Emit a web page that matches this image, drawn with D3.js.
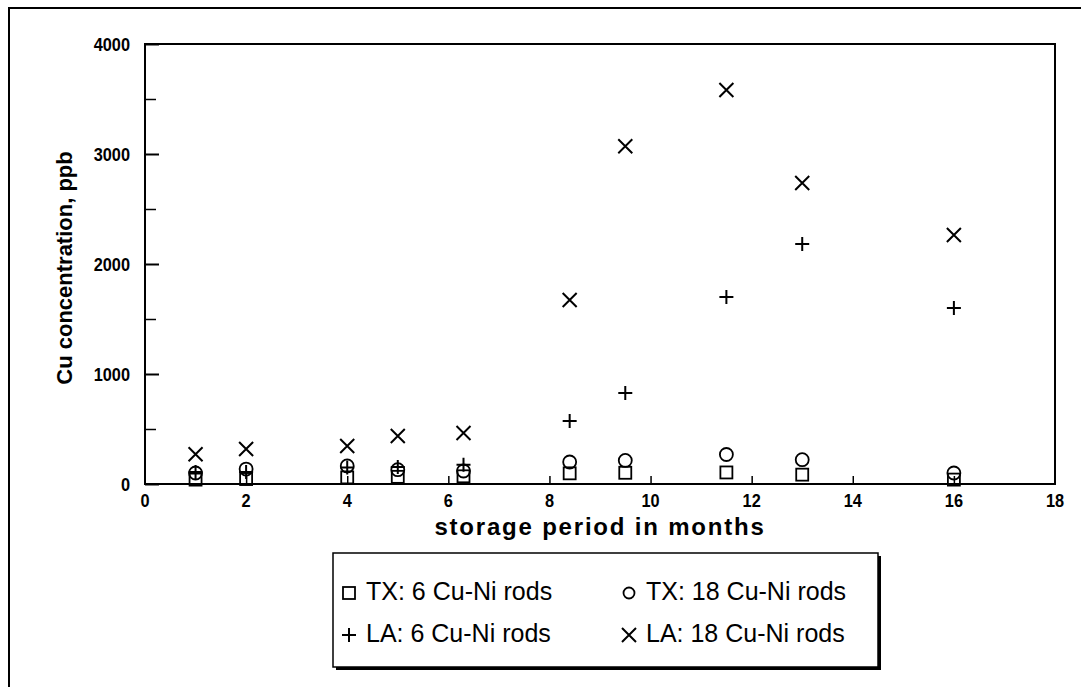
<!DOCTYPE html>
<html>
<head>
<meta charset="utf-8">
<script src="https://cdn.jsdelivr.net/npm/d3@7"></script>
<style>
    body{margin:0;background:#fff;}
    svg text{font-family:'Liberation Sans',Arial,sans-serif;fill:#000;}
</style>
</head>
<body>
<div id="chart"></div>
<script>
let chart_width = 1081;
let chart_height = 687;

// storage period (months) for every measurement
let months = [1, 2, 4, 5, 6.3, 8.4, 9.5, 11.5, 13, 16];
// Cu concentration, ppb
let tx6 = [40, 45, 60, 65, 70, 97, 102, 105, 85, 40];
let tx18 = [100, 136, 164, 130, 118, 200, 214, 268, 221, 100];
let la6 = [110, 110, 150, 155, 175, 573, 827, 1700, 2182, 1600];
let la18 = [270, 318, 345, 436, 464, 1673, 3070, 3582, 2736, 2264];

let x_ticks = [0, 2, 4, 6, 8, 10, 12, 14, 16, 18];
let y_ticks = [0, 1000, 2000, 3000, 4000];
let y_minor = [500, 1500, 2500, 3500];

let series_names = ['TX: 6 Cu-Ni rods', 'TX: 18 Cu-Ni rods', 'LA: 6 Cu-Ni rods', 'LA: 18 Cu-Ni rods'];
let series_values = [tx6, tx18, la6, la18];
let series_shapes = ['square', 'circle', 'plus', 'cross'];

const xScale = d3.scaleLinear().domain([0, 18]).range([145, 1055]);
const yScale = d3.scaleLinear().domain([0, 4000]).range([484, 44]);

let svg = d3.select('#chart')
    .append('svg')
    .attr('width', chart_width)
    .attr('height', chart_height);

// outer frame (runs off the right and bottom edges in the scan)
svg.append('rect')
    .attr('x', 9)
    .attr('y', 8)
    .attr('width', 1100)
    .attr('height', 700)
    .attr('fill', 'none')
    .attr('stroke', '#000')
    .attr('stroke-width', 2);

// plot frame
svg.append('rect')
    .attr('x', xScale(0))
    .attr('y', yScale(4000))
    .attr('width', xScale(18) - xScale(0))
    .attr('height', yScale(0) - yScale(4000))
    .attr('fill', 'none')
    .attr('stroke', '#000')
    .attr('stroke-width', 2);

// y axis, ticks pointing inward
let yAxis = svg.append('g')
    .attr('transform', 'translate(' + xScale(0) + ',0)')
    .call(d3.axisRight(yScale).tickValues(y_ticks).tickSize(14).tickFormat(''));
yAxis.select('.domain').remove();
yAxis.selectAll('line').attr('stroke-width', 2);

let yMinor = svg.append('g')
    .attr('transform', 'translate(' + xScale(0) + ',0)')
    .call(d3.axisRight(yScale).tickValues(y_minor).tickSize(11).tickFormat(''));
yMinor.select('.domain').remove();
yMinor.selectAll('line').attr('stroke-width', 1.5);

// tick labels are a narrow bold face in the original, so squeeze them a bit
svg.append('g')
    .selectAll('text')
    .data(y_ticks)
    .enter()
    .append('text')
    .text(d => d)
    .attr('transform', d => 'translate(130,' + (yScale(d) + 7) + ') scale(0.86,1)')
    .attr('text-anchor', 'end')
    .style('font-size', '19px')
    .style('font-weight', 'bold');

// x axis, short ticks pointing up
let xAxis = svg.append('g')
    .attr('transform', 'translate(0,' + yScale(0) + ')')
    .call(d3.axisTop(xScale).tickValues(x_ticks.slice(1, -1)).tickSize(8).tickFormat(''));
xAxis.select('.domain').remove();
xAxis.selectAll('line').attr('stroke-width', 1.5);

svg.append('g')
    .selectAll('text')
    .data(x_ticks)
    .enter()
    .append('text')
    .text(d => d)
    .attr('transform', d => 'translate(' + xScale(d) + ',507) scale(0.86,1)')
    .attr('text-anchor', 'middle')
    .style('font-size', '19px')
    .style('font-weight', 'bold');

// axis titles
svg.append('text')
    .text('storage period in months')
    .attr('x', 600)
    .attr('y', 535)
    .attr('text-anchor', 'middle')
    .style('font-size', '24px')
    .style('letter-spacing', '1.8px')
    .style('font-weight', 'bold');

svg.append('text')
    .text('Cu concentration, ppb')
    .attr('transform', 'translate(72,' + 268 + ') rotate(-90)')
    .attr('text-anchor', 'middle')
    .style('font-size', '22px')
    .style('font-weight', 'bold');

function marker(g, shape, cx, cy, size){
    let h = size / 2;
    if(shape === 'square'){
        g.append('rect')
            .attr('x', cx - h).attr('y', cy - h)
            .attr('width', size).attr('height', size)
            .attr('fill', 'none').attr('stroke', '#000').attr('stroke-width', 1.8);
    }
    else if(shape === 'circle'){
        g.append('circle')
            .attr('cx', cx).attr('cy', cy).attr('r', h + 0.5)
            .attr('fill', 'none').attr('stroke', '#000').attr('stroke-width', 1.8);
    }
    else if(shape === 'plus'){
        g.append('path')
            .attr('d', 'M' + (cx - h - 1) + ',' + cy + 'H' + (cx + h + 1) + 'M' + cx + ',' + (cy - h - 1) + 'V' + (cy + h + 1))
            .attr('stroke', '#000').attr('stroke-width', 2).attr('fill', 'none');
    }
    else{
        g.append('path')
            .attr('d', 'M' + (cx - h - 1) + ',' + (cy - h - 1) + 'L' + (cx + h + 1) + ',' + (cy + h + 1) + 'M' + (cx - h - 1) + ',' + (cy + h + 1) + 'L' + (cx + h + 1) + ',' + (cy - h - 1))
            .attr('stroke', '#000').attr('stroke-width', 2).attr('fill', 'none');
    }
}

let points = svg.append('g').attr('id', 'points');
series_values.forEach(function(values, s){
    let g = points.append('g').attr('class', 'series_' + s);
    values.forEach(function(v, i){
        marker(g, series_shapes[s], xScale(months[i]), yScale(v), 12);
    });
});

// legend with drop shadow
let legend = svg.append('g').attr('id', 'legend');
legend.append('rect')
    .attr('x', 336).attr('y', 556)
    .attr('width', 545).attr('height', 114)
    .attr('fill', '#000');
legend.append('rect')
    .attr('x', 333).attr('y', 553)
    .attr('width', 545).attr('height', 114)
    .attr('fill', '#fff')
    .attr('stroke', '#000')
    .attr('stroke-width', 1.5);

let legend_x = [349, 629];
let legend_y = [590, 632];
let legend_size = [12, 10, 12, 12];
series_names.forEach(function(name, s){
    let lx = legend_x[s % 2];
    let ly = legend_y[Math.floor(s / 2)];
    let g = legend.append('g');
    marker(g, series_shapes[s], lx, ly + 3, legend_size[s]);
    g.append('text')
        .text(name)
        .attr('x', lx + 17)
        .attr('y', ly + 10)
        .style('font-size', '25px');
});
</script>
</body>
</html>
